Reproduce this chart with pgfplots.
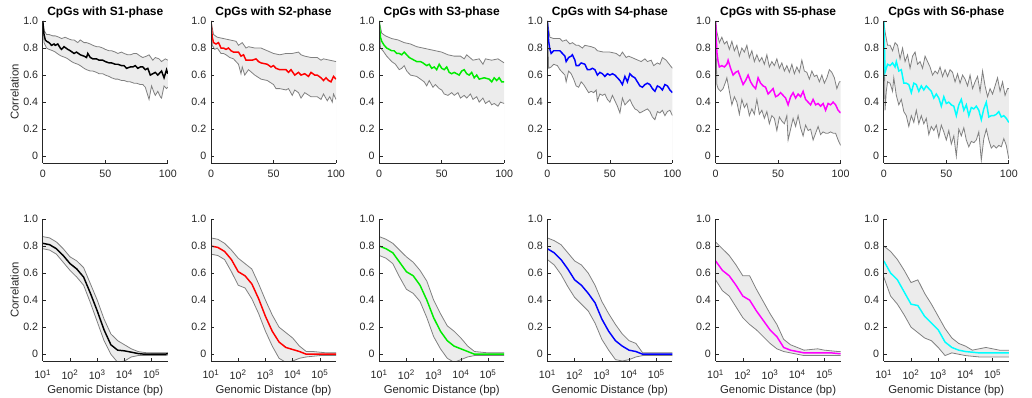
\documentclass[border=0pt]{standalone}
\usepackage{pgfplots}
\pgfplotsset{compat=1.18}
\usepackage{fontspec}
\setmainfont{Liberation Sans}
\definecolor{axgray}{RGB}{38,38,38}
\definecolor{bandfillc}{RGB}{236,236,236}
\definecolor{bandlinec}{RGB}{128,128,128}
\definecolor{mblack}{RGB}{0,0,0}
\definecolor{mred}{RGB}{255,0,0}
\definecolor{mgreen}{RGB}{0,235,0}
\definecolor{mblue}{RGB}{0,0,255}
\definecolor{mmagenta}{RGB}{255,0,255}
\definecolor{mcyan}{RGB}{0,255,255}

% ---------- top row (distance 0..100 bp): m = mean, u = upper, l = lower ----------
\def\TAm{(0,1.0)(1,0.90)(2,0.86)(3,0.85)(5,0.84)(7,0.82)(9,0.83)(10,0.82)(12,0.83)(14,0.80)(15,0.79)(17,0.81)(20,0.79)(22,0.78)(25,0.76)(27,0.77)(30,0.75)(33,0.74)(35,0.73)(36,0.76)(38,0.73)(40,0.72)(43,0.72)(45,0.71)(48,0.71)(50,0.70)(53,0.69)(55,0.69)(58,0.68)(60,0.68)(63,0.67)(65,0.67)(67,0.65)(70,0.66)(72,0.66)(74,0.67)(76,0.65)(78,0.66)(80,0.66)(82,0.64)(84,0.65)(86,0.60)(88,0.61)(90,0.62)(92,0.60)(94,0.62)(95,0.63)(97,0.58)(99,0.64)(100,0.61)}
\def\TAu{(0,1.0)(1,0.93)(3,0.90)(5,0.90)(8,0.89)(10,0.89)(13,0.88)(15,0.87)(18,0.88)(20,0.87)(23,0.86)(25,0.86)(28,0.84)(30,0.86)(33,0.84)(35,0.84)(38,0.83)(40,0.82)(43,0.81)(45,0.81)(48,0.80)(50,0.79)(53,0.78)(55,0.78)(58,0.77)(60,0.76)(63,0.77)(65,0.76)(68,0.75)(70,0.75)(73,0.76)(75,0.76)(78,0.74)(80,0.73)(83,0.74)(85,0.75)(88,0.71)(90,0.73)(93,0.72)(95,0.70)(98,0.72)(100,0.71)}
\def\TAl{(0,1.0)(1,0.84)(3,0.80)(5,0.79)(8,0.78)(10,0.77)(13,0.75)(15,0.74)(18,0.73)(20,0.72)(23,0.70)(25,0.69)(28,0.68)(30,0.67)(33,0.65)(35,0.64)(38,0.63)(40,0.63)(43,0.62)(45,0.61)(48,0.61)(50,0.60)(53,0.59)(55,0.58)(58,0.57)(60,0.57)(63,0.56)(65,0.56)(68,0.55)(70,0.55)(73,0.54)(75,0.54)(78,0.53)(80,0.53)(82,0.51)(84,0.45)(85,0.42)(87,0.52)(89,0.47)(90,0.45)(92,0.48)(94,0.44)(95,0.43)(97,0.52)(99,0.50)(100,0.51)}

\def\TBm{(0,1.0)(1,0.88)(2,0.84)(4,0.83)(6,0.84)(8,0.80)(10,0.80)(12,0.79)(14,0.80)(16,0.78)(18,0.77)(20,0.77)(22,0.77)(24,0.74)(26,0.75)(28,0.71)(30,0.71)(33,0.71)(36,0.72)(38,0.70)(40,0.69)(45,0.68)(48,0.66)(50,0.67)(52,0.65)(55,0.64)(60,0.64)(62,0.62)(64,0.64)(67,0.60)(70,0.62)(72,0.60)(75,0.61)(78,0.59)(80,0.62)(83,0.60)(85,0.60)(88,0.58)(90,0.56)(92,0.58)(94,0.56)(96,0.55)(98,0.59)(100,0.57)}
\def\TBu{(0,1.0)(2,0.90)(5,0.88)(10,0.87)(15,0.86)(20,0.85)(22,0.82)(25,0.84)(28,0.80)(30,0.81)(35,0.80)(40,0.80)(45,0.78)(50,0.76)(55,0.75)(60,0.76)(65,0.76)(70,0.77)(72,0.75)(75,0.74)(80,0.73)(85,0.73)(88,0.71)(90,0.72)(95,0.71)(100,0.70)}
\def\TBl{(0,1.0)(1,0.82)(3,0.79)(5,0.80)(8,0.76)(10,0.76)(12,0.75)(15,0.73)(18,0.72)(20,0.70)(22,0.68)(24,0.61)(25,0.66)(27,0.60)(30,0.64)(35,0.60)(40,0.57)(45,0.56)(50,0.53)(52,0.50)(55,0.50)(60,0.49)(62,0.50)(65,0.45)(67,0.49)(70,0.47)(72,0.43)(75,0.47)(80,0.44)(85,0.44)(88,0.42)(90,0.46)(93,0.41)(95,0.44)(97,0.40)(98,0.46)(100,0.42)}

\def\TCm{(0,1.0)(1,0.88)(2,0.85)(4,0.82)(6,0.80)(8,0.79)(10,0.78)(12,0.78)(14,0.76)(16,0.76)(18,0.75)(20,0.77)(22,0.75)(24,0.73)(26,0.72)(28,0.71)(30,0.70)(33,0.70)(35,0.69)(38,0.67)(40,0.68)(42,0.65)(44,0.66)(46,0.64)(48,0.68)(50,0.65)(52,0.64)(54,0.66)(56,0.62)(58,0.61)(60,0.62)(62,0.61)(64,0.60)(66,0.63)(68,0.64)(70,0.61)(72,0.60)(74,0.62)(76,0.58)(78,0.60)(80,0.57)(84,0.58)(88,0.57)(90,0.55)(92,0.58)(94,0.56)(96,0.58)(98,0.55)(100,0.55)}
\def\TCu{(0,1.0)(2,0.91)(5,0.89)(10,0.87)(15,0.86)(20,0.84)(25,0.83)(30,0.81)(35,0.80)(40,0.79)(45,0.78)(50,0.77)(55,0.75)(60,0.74)(65,0.74)(68,0.72)(70,0.75)(75,0.71)(80,0.72)(83,0.68)(85,0.72)(90,0.71)(95,0.72)(100,0.69)}
\def\TCl{(0,1.0)(1,0.80)(3,0.78)(6,0.74)(10,0.70)(13,0.68)(16,0.64)(18,0.65)(20,0.67)(22,0.63)(25,0.60)(30,0.59)(33,0.57)(36,0.55)(38,0.52)(40,0.56)(43,0.51)(45,0.53)(48,0.50)(50,0.49)(52,0.46)(55,0.45)(58,0.47)(60,0.45)(63,0.47)(65,0.43)(68,0.45)(70,0.43)(73,0.46)(75,0.42)(78,0.44)(80,0.40)(83,0.43)(85,0.39)(88,0.41)(90,0.38)(92,0.39)(95,0.37)(97,0.40)(100,0.39)}

\def\TDm{(0,1.0)(1,0.85)(2,0.79)(3,0.76)(5,0.78)(8,0.78)(10,0.78)(12,0.76)(14,0.74)(15,0.70)(17,0.73)(19,0.74)(20,0.75)(22,0.71)(23,0.67)(25,0.67)(27,0.69)(30,0.68)(32,0.64)(34,0.64)(36,0.65)(38,0.64)(40,0.60)(42,0.62)(44,0.61)(46,0.59)(48,0.61)(50,0.60)(52,0.61)(54,0.60)(56,0.58)(58,0.56)(60,0.53)(62,0.59)(64,0.55)(66,0.61)(68,0.59)(70,0.58)(72,0.55)(74,0.52)(76,0.51)(78,0.53)(80,0.54)(82,0.53)(84,0.50)(86,0.48)(88,0.52)(90,0.51)(92,0.49)(94,0.53)(96,0.52)(98,0.49)(100,0.47)}
\def\TDu{(0,1.0)(2,0.88)(5,0.87)(10,0.87)(12,0.85)(15,0.86)(18,0.83)(20,0.84)(23,0.82)(25,0.82)(28,0.80)(30,0.82)(35,0.81)(38,0.80)(40,0.78)(45,0.77)(50,0.77)(55,0.76)(58,0.74)(60,0.77)(63,0.73)(65,0.74)(70,0.72)(75,0.70)(78,0.72)(80,0.70)(83,0.71)(85,0.67)(88,0.69)(90,0.68)(92,0.73)(95,0.71)(100,0.65)}
\def\TDl{(0,1.0)(1,0.65)(3,0.66)(5,0.68)(8,0.67)(10,0.64)(12,0.62)(14,0.60)(15,0.55)(17,0.63)(19,0.61)(21,0.57)(23,0.52)(25,0.51)(27,0.55)(29,0.53)(31,0.50)(33,0.47)(35,0.48)(37,0.47)(39,0.49)(40,0.41)(42,0.46)(44,0.45)(46,0.46)(48,0.42)(50,0.40)(52,0.45)(54,0.41)(56,0.37)(58,0.32)(60,0.43)(62,0.38)(64,0.40)(66,0.42)(68,0.38)(70,0.35)(72,0.34)(74,0.32)(76,0.33)(78,0.34)(80,0.35)(82,0.33)(84,0.29)(86,0.27)(88,0.33)(90,0.32)(92,0.34)(94,0.30)(96,0.33)(98,0.34)(100,0.30)}

\def\TEm{(0,1.0)(1,0.77)(2,0.70)(3,0.66)(5,0.67)(7,0.66)(9,0.68)(10,0.71)(12,0.65)(14,0.60)(16,0.62)(18,0.63)(20,0.58)(22,0.53)(24,0.56)(26,0.60)(28,0.55)(30,0.52)(32,0.50)(34,0.58)(36,0.54)(38,0.52)(40,0.51)(42,0.46)(44,0.48)(46,0.50)(48,0.44)(50,0.45)(52,0.47)(54,0.45)(56,0.43)(58,0.38)(60,0.44)(62,0.47)(64,0.43)(66,0.46)(68,0.44)(70,0.48)(72,0.42)(74,0.40)(76,0.38)(78,0.42)(80,0.38)(82,0.39)(84,0.37)(86,0.39)(88,0.34)(90,0.39)(92,0.38)(94,0.40)(96,0.38)(98,0.34)(100,0.32)}
\def\TEu{(0,1.0)(1,0.92)(3,0.84)(5,0.88)(7,0.83)(9,0.85)(11,0.79)(13,0.85)(15,0.78)(17,0.82)(19,0.74)(21,0.80)(23,0.77)(25,0.82)(27,0.73)(29,0.78)(31,0.70)(33,0.75)(35,0.70)(37,0.73)(39,0.68)(41,0.75)(43,0.66)(45,0.70)(47,0.67)(49,0.72)(51,0.65)(53,0.69)(55,0.63)(57,0.67)(59,0.62)(61,0.68)(63,0.61)(65,0.66)(67,0.62)(69,0.71)(71,0.63)(73,0.62)(75,0.57)(77,0.63)(79,0.59)(81,0.60)(83,0.55)(85,0.60)(87,0.54)(89,0.58)(91,0.64)(93,0.62)(95,0.58)(97,0.50)(99,0.55)(100,0.55)}
\def\TEl{(0,1.0)(1,0.53)(2,0.50)(4,0.48)(6,0.50)(8,0.55)(9,0.58)(11,0.48)(13,0.38)(15,0.44)(17,0.40)(19,0.31)(21,0.42)(23,0.36)(25,0.39)(27,0.30)(29,0.35)(31,0.31)(33,0.42)(35,0.31)(37,0.34)(39,0.28)(41,0.33)(43,0.24)(45,0.30)(47,0.28)(49,0.19)(51,0.29)(53,0.26)(55,0.24)(57,0.30)(58,0.12)(60,0.20)(62,0.28)(64,0.22)(66,0.30)(68,0.21)(70,0.15)(72,0.23)(74,0.19)(76,0.20)(78,0.12)(80,0.17)(82,0.22)(84,0.16)(86,0.18)(88,0.17)(90,0.17)(92,0.18)(94,0.17)(96,0.17)(98,0.12)(100,0.08)}

\def\TFm{(0,1.0)(1,0.62)(2,0.65)(3,0.68)(5,0.67)(7,0.69)(9,0.66)(10,0.70)(12,0.63)(14,0.64)(16,0.54)(18,0.54)(20,0.53)(22,0.47)(24,0.54)(26,0.53)(28,0.48)(30,0.52)(32,0.49)(34,0.52)(36,0.50)(38,0.48)(40,0.43)(42,0.46)(44,0.43)(46,0.37)(48,0.44)(50,0.39)(52,0.40)(54,0.38)(56,0.37)(58,0.30)(60,0.38)(62,0.42)(64,0.34)(66,0.38)(68,0.30)(70,0.36)(72,0.35)(74,0.37)(76,0.34)(78,0.27)(80,0.35)(82,0.40)(84,0.29)(86,0.30)(88,0.30)(90,0.31)(92,0.33)(94,0.29)(96,0.30)(98,0.28)(100,0.25)}
\def\TFu{(0,1.0)(1,0.92)(3,0.82)(5,0.82)(7,0.78)(9,0.84)(11,0.82)(13,0.72)(15,0.80)(17,0.70)(19,0.75)(21,0.65)(23,0.74)(25,0.77)(27,0.68)(29,0.70)(31,0.65)(33,0.74)(35,0.70)(37,0.66)(39,0.60)(41,0.63)(43,0.61)(45,0.66)(47,0.59)(49,0.64)(51,0.59)(53,0.64)(55,0.62)(57,0.55)(59,0.61)(61,0.54)(63,0.60)(65,0.57)(67,0.52)(69,0.60)(71,0.50)(73,0.55)(75,0.59)(77,0.48)(79,0.63)(81,0.52)(83,0.44)(85,0.50)(87,0.46)(89,0.52)(91,0.58)(93,0.48)(95,0.55)(97,0.45)(99,0.50)(100,0.50)}
\def\TFl{(0,1.0)(1,0.34)(2,0.48)(3,0.55)(5,0.54)(7,0.48)(8,0.58)(10,0.45)(12,0.38)(14,0.42)(16,0.33)(18,0.30)(20,0.22)(22,0.30)(24,0.25)(26,0.34)(28,0.24)(30,0.30)(32,0.24)(34,0.28)(36,0.16)(38,0.22)(40,0.19)(42,0.23)(44,0.14)(46,0.23)(48,0.18)(50,0.12)(52,0.19)(54,0.09)(56,0.15)(58,0.00)(60,0.20)(62,0.15)(64,0.21)(66,0.12)(68,0.07)(70,0.11)(72,0.10)(74,0.12)(76,0.18)(78,-0.03)(80,0.13)(82,0.20)(84,0.12)(86,0.06)(88,0.08)(90,0.06)(92,0.08)(94,0.07)(96,0.13)(98,0.08)(100,-0.02)}

% ---------- bottom row (genomic distance in bp, log axis) ----------
\def\BAm{(10,0.82)(17.78,0.81)(31.62,0.78)(56.23,0.73)(100,0.67)(177.8,0.63)(316.2,0.57)(562.3,0.45)(1000,0.32)(1778,0.18)(3162,0.07)(5623,0.03)(10000,0.025)(17783,0.015)(31623,0.005)(56234,0.0)(100000,0.0)(177828,0.0)(316228,0.0)(390000,0.005)}
\def\BAu{(10,0.87)(17.78,0.86)(31.62,0.83)(56.23,0.78)(100,0.72)(177.8,0.69)(316.2,0.64)(562.3,0.52)(1000,0.40)(1778,0.26)(3162,0.15)(5623,0.10)(10000,0.07)(17783,0.04)(31623,0.02)(56234,0.012)(100000,0.01)(177828,0.01)(316228,0.01)(390000,0.01)}
\def\BAl{(10,0.78)(17.78,0.77)(31.62,0.74)(56.23,0.68)(100,0.62)(177.8,0.57)(316.2,0.51)(562.3,0.38)(1000,0.24)(1778,0.10)(3162,0.0)(5623,-0.06)(10000,-0.05)(17783,-0.02)(31623,-0.01)(56234,-0.01)(100000,-0.01)(177828,-0.01)(316228,-0.01)(390000,-0.005)}

\def\BBm{(10,0.80)(17.78,0.79)(31.62,0.76)(56.23,0.70)(100,0.61)(177.8,0.58)(316.2,0.52)(562.3,0.41)(1000,0.28)(1778,0.17)(3162,0.09)(5623,0.05)(10000,0.035)(17783,0.02)(31623,0.0)(56234,0.0)(100000,0.0)(177828,0.0)(316228,0.0)(390000,0.0)}
\def\BBu{(10,0.86)(17.78,0.85)(31.62,0.82)(56.23,0.77)(100,0.71)(177.8,0.67)(316.2,0.63)(562.3,0.52)(1000,0.40)(1778,0.29)(3162,0.20)(5623,0.16)(10000,0.12)(17783,0.06)(31623,0.02)(56234,0.02)(100000,0.015)(177828,0.01)(316228,0.01)(390000,0.01)}
\def\BBl{(10,0.74)(17.78,0.73)(31.62,0.70)(56.23,0.61)(100,0.51)(177.8,0.49)(316.2,0.41)(562.3,0.30)(1000,0.17)(1778,0.06)(3162,-0.03)(5623,-0.06)(10000,-0.05)(17783,-0.03)(31623,-0.02)(56234,-0.015)(100000,-0.01)(177828,-0.01)(316228,-0.01)(390000,-0.01)}

\def\BCm{(10,0.80)(17.78,0.78)(31.62,0.75)(56.23,0.68)(100,0.61)(177.8,0.58)(316.2,0.51)(562.3,0.40)(1000,0.27)(1778,0.17)(3162,0.10)(5623,0.06)(10000,0.04)(17783,0.02)(31623,0.0)(56234,0.0)(100000,0.0)(177828,0.0)(316228,0.0)(390000,0.0)}
\def\BCu{(10,0.87)(17.78,0.85)(31.62,0.82)(56.23,0.77)(100,0.72)(177.8,0.68)(316.2,0.62)(562.3,0.54)(1000,0.40)(1778,0.30)(3162,0.21)(5623,0.17)(10000,0.12)(17783,0.06)(31623,0.02)(56234,0.015)(100000,0.01)(177828,0.01)(316228,0.01)(390000,0.01)}
\def\BCl{(10,0.73)(17.78,0.71)(31.62,0.67)(56.23,0.57)(100,0.48)(177.8,0.45)(316.2,0.39)(562.3,0.27)(1000,0.13)(1778,0.04)(3162,-0.03)(5623,-0.06)(10000,-0.04)(17783,-0.02)(31623,-0.01)(56234,-0.01)(100000,-0.01)(177828,-0.01)(316228,-0.01)(390000,-0.01)}

\def\BDm{(10,0.78)(17.78,0.75)(31.62,0.70)(56.23,0.63)(100,0.55)(177.8,0.51)(316.2,0.45)(562.3,0.38)(1000,0.26)(1778,0.17)(3162,0.10)(5623,0.06)(10000,0.03)(17783,0.02)(31623,0.0)(56234,0.0)(100000,0.0)(177828,0.0)(316228,0.0)(390000,0.0)}
\def\BDu{(10,0.86)(17.78,0.84)(31.62,0.81)(56.23,0.75)(100,0.69)(177.8,0.66)(316.2,0.60)(562.3,0.51)(1000,0.39)(1778,0.30)(3162,0.22)(5623,0.15)(10000,0.10)(17783,0.08)(31623,0.01)(56234,0.01)(100000,0.01)(177828,0.01)(316228,0.01)(390000,0.01)}
\def\BDl{(10,0.70)(17.78,0.66)(31.62,0.59)(56.23,0.50)(100,0.42)(177.8,0.37)(316.2,0.32)(562.3,0.23)(1000,0.11)(1778,0.03)(3162,-0.04)(5623,-0.05)(10000,-0.04)(17783,-0.02)(31623,-0.01)(56234,-0.01)(100000,-0.01)(177828,-0.01)(316228,-0.01)(390000,-0.01)}

\def\BEm{(10,0.69)(17.78,0.62)(31.62,0.58)(56.23,0.51)(100,0.43)(177.8,0.40)(316.2,0.32)(562.3,0.25)(1000,0.18)(1778,0.13)(3162,0.05)(5623,0.03)(10000,0.02)(17783,0.01)(31623,0.01)(56234,0.01)(100000,0.01)(177828,0.01)(316228,0.005)(390000,0.005)}
\def\BEu{(10,0.83)(17.78,0.78)(31.62,0.73)(56.23,0.66)(100,0.58)(177.8,0.58)(316.2,0.48)(562.3,0.39)(1000,0.30)(1778,0.22)(3162,0.11)(5623,0.07)(10000,0.05)(17783,0.03)(31623,0.035)(56234,0.04)(100000,0.03)(177828,0.025)(316228,0.02)(390000,0.02)}
\def\BEl{(10,0.55)(17.78,0.47)(31.62,0.43)(56.23,0.35)(100,0.27)(177.8,0.22)(316.2,0.18)(562.3,0.13)(1000,0.08)(1778,0.04)(3162,0.02)(5623,0.01)(10000,0.0)(17783,-0.01)(31623,-0.01)(56234,-0.01)(100000,-0.01)(177828,-0.01)(316228,-0.01)(390000,-0.01)}

\def\BFm{(10,0.69)(17.78,0.60)(31.62,0.55)(56.23,0.46)(100,0.37)(177.8,0.36)(316.2,0.28)(562.3,0.23)(1000,0.18)(1778,0.09)(3162,0.05)(5623,0.03)(10000,0.02)(17783,0.015)(31623,0.01)(56234,0.01)(100000,0.01)(177828,0.01)(316228,0.01)(390000,0.01)}
\def\BFu{(10,0.80)(17.78,0.76)(31.62,0.70)(56.23,0.62)(100,0.53)(177.8,0.55)(316.2,0.45)(562.3,0.37)(1000,0.28)(1778,0.19)(3162,0.12)(5623,0.08)(10000,0.06)(17783,0.03)(31623,0.04)(56234,0.05)(100000,0.04)(177828,0.03)(316228,0.03)(390000,0.03)}
\def\BFl{(10,0.57)(17.78,0.43)(31.62,0.37)(56.23,0.29)(100,0.20)(177.8,0.16)(316.2,0.12)(562.3,0.10)(1000,0.05)(1778,-0.01)(3162,0.01)(5623,0.0)(10000,-0.01)(17783,-0.015)(31623,-0.02)(56234,-0.02)(100000,-0.02)(177828,-0.02)(316228,-0.02)(390000,-0.02)}

\pgfplotsset{
  panel/.style={
    scale only axis, width=93.75pt, height=106.5pt, anchor=south west,
    axis x line*=bottom, axis y line*=left, axis on top=true,
    axis line style={draw=axgray, line width=0.5pt},
    tick style={draw=axgray, line width=0.5pt},
    tick align=inside, major tick length=2.5pt,
    ymin=-0.05, ymax=1,
    ytick={0,0.2,0.4,0.6,0.8,1}, yticklabels={0,0.2,0.4,0.6,0.8,1.0},
    ticklabel style={font=\fontsize{8}{9}\selectfont, text=axgray},
    label style={font=\fontsize{8.5}{10}\selectfont, text=axgray},
    ylabel style={at={(axis description cs:-0.225,0.5)}, anchor=center},
    title style={font=\bfseries\fontsize{9}{10}\selectfont, text=black, at={(axis description cs:0.5,1)}, anchor=base, yshift=-2pt},
  },
  topax/.style={panel, xmin=0, xmax=100, xtick={0,50,100}, xticklabels={0,50,100},
    xticklabel style={yshift=-1.5pt}},
  botax/.style={panel, xmin=10, xmax=390000,
    xtick={10,100,1000,10000,100000},
    xticklabels={10\textsuperscript{1},10\textsuperscript{2},10\textsuperscript{3},10\textsuperscript{4},10\textsuperscript{5}},
    xticklabel style={yshift=-3pt},
    xminorticks=false,
    xlabel={Genomic Distance (bp)},
    xlabel style={at={(axis description cs:0.5,0)}, anchor=center, yshift=-22pt}},
  bandfill/.style={fill=bandfillc, draw=none},
  whitefill/.style={fill=white, draw=none},
  bandline/.style={draw=bandlinec, line width=0.6pt},
  meanline/.style={line width=1.1pt},
}

% expand a stored coordinate list into an \addplot
\newcommand\pc[2]{\edef\pctmp{\noexpand\addplot[#1] coordinates {#2};}\pctmp}

\newcommand\TopPanel[7]{%
\begin{axis}[topax, at={(#1,176.25pt)}, title={CpGs with S#2-phase}, #7]
\pc{bandfill}{(0,-1)#4(100,-1)}
\pc{whitefill}{(0,-1)#5(100,-1)}
\pc{bandline}{#4}
\pc{bandline}{#5}
\pc{draw=#3, meanline}{#6}
\end{axis}}

\newcommand\BotPanel[6]{%
\begin{semilogxaxis}[botax, at={(#1,27.75pt)}, #6]
\pc{bandfill}{(10,-1)#3(390000,-1)}
\pc{whitefill}{(10,-1)#4(390000,-1)}
\pc{bandline}{#3}
\pc{bandline}{#4}
\pc{draw=#2, meanline}{#5}
\end{semilogxaxis}}

\begin{document}
\begin{tikzpicture}
\useasboundingbox (0,0) rectangle (774pt,298.5pt);
\TopPanel{32.1pt}{1}{mblack}{\TAu}{\TAl}{\TAm}{ylabel={Correlation}}
\TopPanel{158.25pt}{2}{mred}{\TBu}{\TBl}{\TBm}{}
\TopPanel{284.4pt}{3}{mgreen}{\TCu}{\TCl}{\TCm}{}
\TopPanel{410.55pt}{4}{mblue}{\TDu}{\TDl}{\TDm}{}
\TopPanel{536.7pt}{5}{mmagenta}{\TEu}{\TEl}{\TEm}{}
\TopPanel{662.85pt}{6}{mcyan}{\TFu}{\TFl}{\TFm}{}
\BotPanel{32.1pt}{mblack}{\BAu}{\BAl}{\BAm}{ylabel={Correlation}}
\BotPanel{158.25pt}{mred}{\BBu}{\BBl}{\BBm}{}
\BotPanel{284.4pt}{mgreen}{\BCu}{\BCl}{\BCm}{}
\BotPanel{410.55pt}{mblue}{\BDu}{\BDl}{\BDm}{}
\BotPanel{536.7pt}{mmagenta}{\BEu}{\BEl}{\BEm}{}
\BotPanel{662.85pt}{mcyan}{\BFu}{\BFl}{\BFm}{}
\end{tikzpicture}
\end{document}
